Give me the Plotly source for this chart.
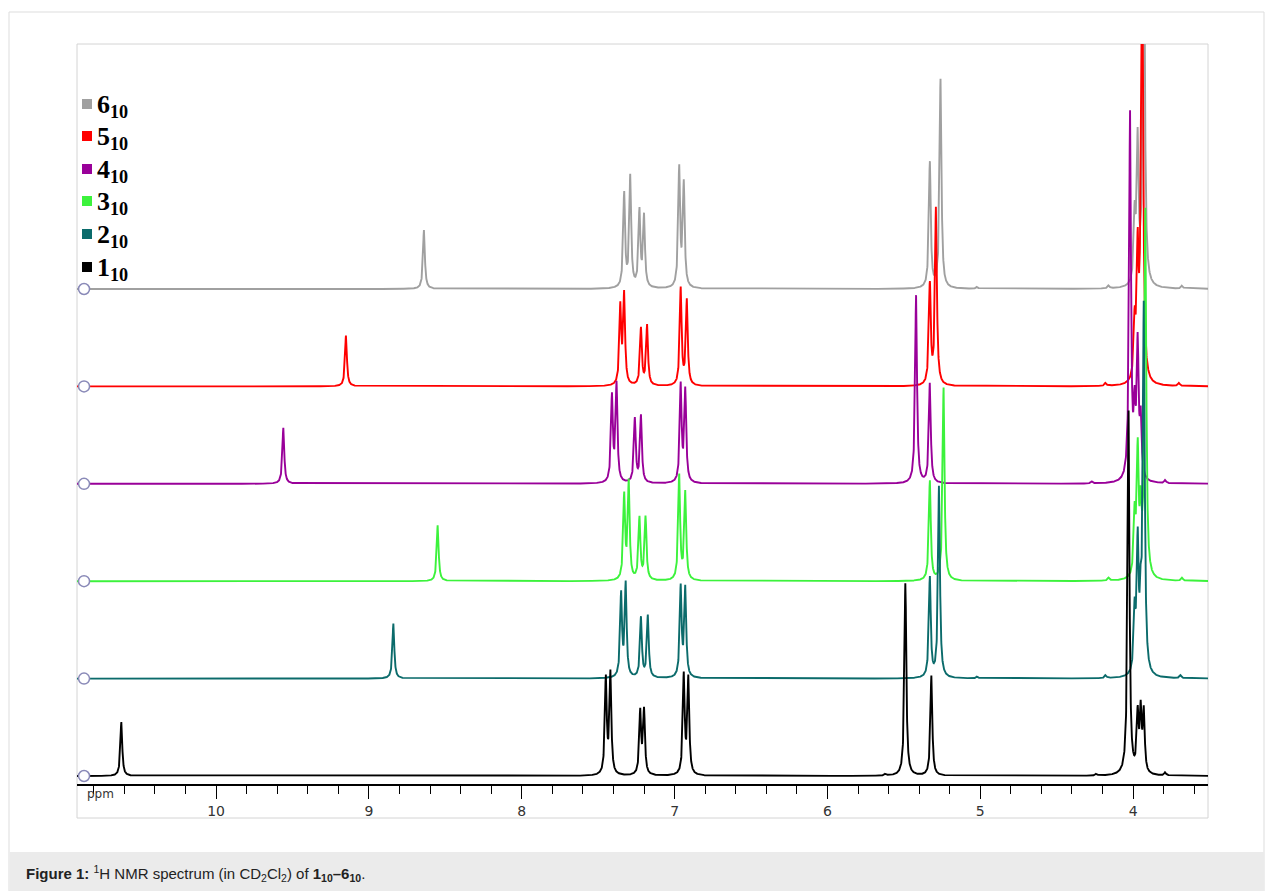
import numpy as np
import plotly.graph_objects as go

# ---------------- data ----------------
COMPOUNDS = ["1", "2", "3", "4", "5", "6"]          # bottom -> top
COLORS = ["#000000", "#0b6b6b", "#3cf23c", "#990099", "#ff0000", "#a0a0a0"]

# peak positions (ppm) and heights (arbitrary units, one baseline step = 97.4)
PPM_1 = [10.62, 7.45, 7.42, 7.225, 7.20, 6.94, 6.91, 5.49, 5.32, 4.03, 3.97, 3.95, 3.93, 3.79, 5.62, 4.24]
INT_1 = [54, 96, 101, 63, 64, 99, 96, 193, 100, 365, 57, 60, 60, 3, 2, 2]

PPM_2 = [8.84, 7.35, 7.32, 7.22, 7.175, 6.96, 6.93, 5.33, 5.27, 3.99, 3.97, 3.95, 3.93, 4.18, 3.69, 5.02]
INT_2 = [55, 83, 93, 60, 62, 90, 89, 100, 192, 60, 127, 60, 367, 3, 3, 2]

PPM_3 = [8.55, 7.33, 7.30, 7.23, 7.19, 6.97, 6.93, 5.33, 5.24, 3.99, 3.97, 3.95, 3.92, 4.16, 3.68]
INT_3 = [56, 84, 97, 62, 63, 105, 88, 100, 193, 60, 123, 60, 367, 3, 3]

PPM_4 = [9.56, 7.41, 7.38, 7.26, 7.22, 6.96, 6.93, 5.42, 5.33, 4.02, 3.99, 3.97, 3.95, 3.79, 4.27]
INT_4 = [56, 86, 98, 64, 67, 97, 92, 188, 100, 367, 62, 131, 57, 3, 2]

PPM_5 = [9.15, 7.355, 7.33, 7.22, 7.18, 6.96, 6.92, 5.33, 5.29, 3.99, 3.97, 3.95, 3.94, 4.18, 3.70]
INT_5 = [51, 78, 90, 57, 60, 97, 85, 100, 177, 56, 123, 60, 420, 3, 3]

PPM_6 = [8.64, 7.33, 7.29, 7.23, 7.20, 6.97, 6.94, 5.33, 5.26, 3.99, 3.97, 3.93, 4.16, 3.68, 5.02]
INT_6 = [59, 94, 111, 76, 71, 119, 103, 126, 209, 66, 141, 440, 3, 3, 2]

PEAKS = [(PPM_1, INT_1), (PPM_2, INT_2), (PPM_3, INT_3),
         (PPM_4, INT_4), (PPM_5, INT_5), (PPM_6, INT_6)]

X_RANGE = [10.91, 3.51]
MAJOR_TICKS = [10, 9, 8, 7, 6, 5, 4]
TICK_LABELS = ["10", "9", "8", "7", "6", "5", "4"]

# ---------------- layout constants ----------------
W, H = 1265, 891
L, R, T, B = 77, 1265 - 1208, 44, 891 - 784
PW, PH = W - L - R, H - T - B
STEP = 97.4
Y_RANGE = [-8, 5 * STEP + 245]


def px_x(p):
    return (p - L) / PW


def px_y(p):
    return (H - B - p) / PH


def lorentz_sum(x, ppms, ints, g=0.0072):
    y = np.zeros_like(x)
    for c, h in zip(ppms, ints):
        y += h * g * g / ((x - c) ** 2 + g * g)
    return y


x = np.arange(3.50, 10.93, 0.0008)

fig = go.Figure()
# draw top spectrum first, bottom (black) last
for i in reversed(range(len(COMPOUNDS))):
    ppms, ints = PEAKS[i]
    y = lorentz_sum(x, ppms, ints) + i * STEP
    fig.add_trace(go.Scatter(x=np.round(x, 4), y=np.round(y, 2), mode="lines",
                             line=dict(color=COLORS[i], width=1.9),
                             hoverinfo="skip", showlegend=False))

# baseline circle markers on the left
fig.add_trace(go.Scatter(
    x=[X_RANGE[0] - 0.046] * len(COMPOUNDS),
    y=[i * STEP for i in range(len(COMPOUNDS))],
    mode="markers",
    marker=dict(symbol="circle", size=11, color="white", line=dict(width=1.5, color="#8a8ab8")),
    hoverinfo="skip", showlegend=False, cliponaxis=False))

shapes = []
# outer frame
shapes.append(dict(type="rect", xref="paper", yref="paper",
                   x0=px_x(9), x1=px_x(1264), y0=px_y(891), y1=px_y(12),
                   line=dict(color="#dddddd", width=1), fillcolor="rgba(0,0,0,0)", layer="below"))
# caption band
shapes.append(dict(type="rect", xref="paper", yref="paper",
                   x0=px_x(9.5), x1=px_x(1264), y0=px_y(891), y1=px_y(852),
                   line=dict(width=0), fillcolor="#ebebeb", layer="below"))
# inner frame
shapes.append(dict(type="rect", xref="paper", yref="paper",
                   x0=px_x(77), x1=px_x(1208), y0=px_y(818), y1=px_y(44),
                   line=dict(color="#d4d4d4", width=1), fillcolor="rgba(0,0,0,0)", layer="below"))

annotations = []
# legend (custom)
row_y = [104, 136, 169, 201, 234, 267]
for k, i in enumerate(reversed(range(len(COMPOUNDS)))):
    yy = row_y[k]
    shapes.append(dict(type="rect", xref="paper", yref="paper",
                       x0=px_x(82), x1=px_x(92), y0=px_y(yy + 5), y1=px_y(yy - 5),
                       line=dict(width=0), fillcolor=COLORS[i]))
    annotations.append(dict(xref="paper", yref="paper", x=px_x(95), y=px_y(yy + 2),
                            xanchor="left", yanchor="middle", showarrow=False,
                            text="<b>%s<sub>10</sub></b>" % COMPOUNDS[i],
                            font=dict(family="Liberation Serif", size=26, color="#000000")))

# ppm label
annotations.append(dict(xref="paper", yref="paper", x=px_x(100), y=px_y(794),
                        xanchor="center", yanchor="middle", showarrow=False, text="ppm",
                        font=dict(family="DejaVu Sans", size=12, color="#333333")))

# caption
annotations.append(dict(xref="paper", yref="paper", x=px_x(24), y=px_y(873),
                        xanchor="left", yanchor="middle", showarrow=False,
                        text="<b>Figure 1:</b> <sup>1</sup>H NMR spectrum (in CD<sub>2</sub>Cl<sub>2</sub>) of "
                             "<b>1<sub>10</sub>–6<sub>10</sub></b>.",
                        font=dict(family="Liberation Sans", size=15, color="#222222")))

fig.update_layout(
    width=W, height=H, margin=dict(l=L, r=R, t=T, b=B, pad=0),
    paper_bgcolor="white", plot_bgcolor="white",
    xaxis=dict(range=X_RANGE, showgrid=False, zeroline=False,
               showline=True, linecolor="#000000", linewidth=1.5,
               ticks="outside", ticklen=13, tickwidth=1.3, tickcolor="#000000",
               tickvals=MAJOR_TICKS, ticktext=TICK_LABELS,
               tickfont=dict(family="DejaVu Sans", size=14, color="#333333"),
               minor=dict(dtick=0.2, tick0=4, ticks="outside", ticklen=8,
                          tickwidth=1.1, tickcolor="#000000", showgrid=False)),
    yaxis=dict(range=Y_RANGE, visible=False, showgrid=False, zeroline=False),
    shapes=shapes, annotations=annotations,
)

fig.write_html("out.html", config={"displayModeBar": False},
               post_script="document.body.style.margin='0';document.body.style.overflow='hidden';")
